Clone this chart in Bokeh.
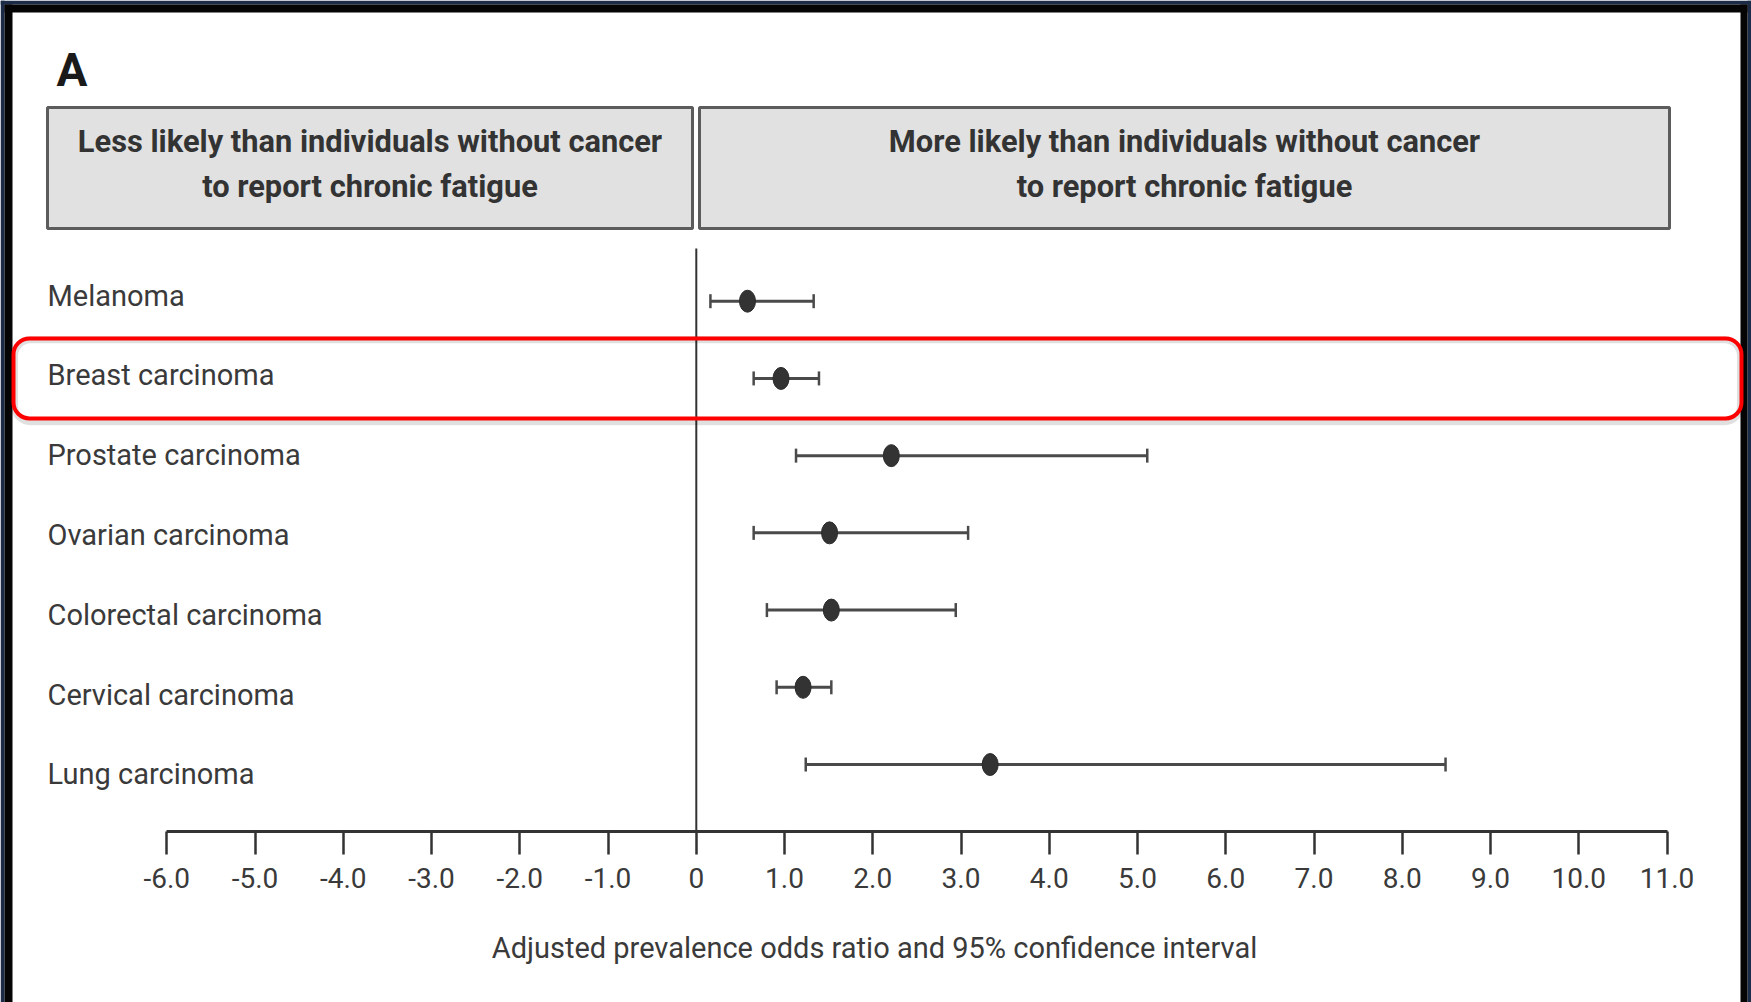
from bokeh.plotting import figure
from bokeh.models import (Range1d, LinearAxis, FixedTicker, Whisker, ColumnDataSource,
                          BoxAnnotation, TeeHead)
from bokeh.core.properties import value
from bokeh.embed import file_html
from bokeh.resources import INLINE

# ---------------- data ----------------
categories = ["Melanoma", "Breast carcinoma", "Prostate carcinoma", "Ovarian carcinoma",
              "Colorectal carcinoma", "Cervical carcinoma", "Lung carcinoma"]
odds_ratio = [0.58, 0.96, 2.21, 1.51, 1.53, 1.21, 3.33]
ci_lower = [0.16, 0.65, 1.13, 0.65, 0.80, 0.91, 1.24]
ci_upper = [1.33, 1.39, 5.11, 3.08, 2.94, 1.53, 8.49]
x_ticks = [-6, -5, -4, -3, -2, -1, 0, 1, 2, 3, 4, 5, 6, 7, 8, 9, 10, 11]
tick_labels = ["-6.0", "-5.0", "-4.0", "-3.0", "-2.0", "-1.0", "0", "1.0", "2.0", "3.0",
               "4.0", "5.0", "6.0", "7.0", "8.0", "9.0", "10.0", "11.0"]
header_left = ["Less likely than individuals without cancer", "to report chronic fatigue"]
header_right = ["More likely than individuals without cancer", "to report chronic fatigue"]
axis_title = "Adjusted prevalence odds ratio and 95% confidence interval"
panel_letter = "A"
highlighted = "Breast carcinoma"

# ---------------- layout helpers (page pixel -> data) ----------------
W, H = 1751, 1002
ZERO_PX, UNIT_PX = 695.8, 88.25
ROW0_PX, ROW_PX = 300.7, 77.22


def X(px):
    return (px - ZERO_PX) / UNIT_PX


def Y(py):
    return (py - ROW0_PX) / ROW_PX


FONT = "Roboto"
rows = list(range(len(categories)))

p = figure(width=W, height=H, x_range=Range1d(X(0), X(W)),
           y_range=Range1d(Y(H), Y(0)), x_axis_type=None, y_axis_type=None,
           toolbar_location=None, output_backend="svg", min_border=0,
           outline_line_color=None, background_fill_color="white",
           border_fill_color="white")

# dark frame around the panel (navy outer, black inner)
p.quad(left=[X(0), X(0), X(1747)], right=[X(4), X(W), X(W)],
       top=[Y(0), Y(0), Y(0)], bottom=[Y(H), Y(4), Y(H)],
       fill_color="#1b2b48", line_color=None)
p.quad(left=[X(4), X(4), X(1740)], right=[X(12), X(1747), X(1747)],
       top=[Y(4), Y(4), Y(4)], bottom=[Y(H), Y(12), Y(H)],
       fill_color="#050505", line_color=None)

# panel letter
p.text(x=[X(56)], y=[Y(69)], text=[panel_letter], text_font=value(FONT),
       text_font_style="bold", text_font_size="46px", text_color="#1a1a1a",
       text_baseline="middle", text_align="left")

# header boxes
p.quad(left=[X(47), X(699)], right=[X(692), X(1669)], top=[Y(107), Y(107)],
       bottom=[Y(228), Y(228)], fill_color="#e1e1e1", line_color="#5c5c5c", line_width=3)
for lines, cx in ((header_left, (47 + 692) / 2), (header_right, (699 + 1669) / 2)):
    p.text(x=[X(cx)] * len(lines), y=[Y(141), Y(186)], text=lines, text_font=value(FONT),
           text_font_style="bold", text_font_size="30.8px", text_color="#333333",
           text_align="center", text_baseline="middle")

# zero reference line
p.segment(x0=[0], x1=[0], y0=[Y(248)], y1=[Y(830)], line_color="#333333", line_width=2)

# row labels
label_y = [Y(295) + i * (79.8 / ROW_PX) for i in rows]
p.text(x=[X(47)] * len(categories), y=label_y, text=categories, text_font=value(FONT),
       text_font_size="29px", text_color="#3a3a3a", text_align="left",
       text_baseline="middle")

# confidence intervals
src = ColumnDataSource(dict(base=rows, lower=ci_lower, upper=ci_upper))
whisk = Whisker(base="base", lower="lower", upper="upper", dimension="width", source=src,
                line_width=3, line_color="#4a4a4a",
                lower_head=TeeHead(size=14, line_width=2.5, line_color="#4a4a4a"),
                upper_head=TeeHead(size=14, line_width=2.5, line_color="#4a4a4a"))
p.add_layout(whisk)

# point estimates
p.ellipse(x=odds_ratio, y=rows, width=16, height=22, width_units="screen",
          height_units="screen", fill_color="#333333", line_color="#2a2a2a")

# x axis
xaxis = LinearAxis(fixed_location=Y(830.5), bounds=(x_ticks[0], x_ticks[-1]),
                   ticker=FixedTicker(ticks=x_ticks),
                   major_label_overrides={t: s for t, s in zip(x_ticks, tick_labels)})
xaxis.axis_line_width = 3
xaxis.axis_line_color = "#333333"
xaxis.major_tick_line_width = 2.5
xaxis.major_tick_line_color = "#333333"
xaxis.major_tick_in = 0
xaxis.major_tick_out = 23
xaxis.minor_tick_line_color = None
xaxis.major_label_standoff = 14
xaxis.major_label_text_font = FONT
xaxis.major_label_text_font_size = "28px"
xaxis.major_label_text_color = "#3a3a3a"
p.add_layout(xaxis, "below")

p.text(x=[X(874)], y=[Y(947)], text=[axis_title], text_font=value(FONT),
       text_font_size="29px", text_color="#3a3a3a", text_align="center",
       text_baseline="middle")

# highlight box around the selected row
hi = categories.index(highlighted)
shadow = BoxAnnotation(left=X(14), right=X(1740), top=hi - 0.50, bottom=hi + 0.56,
                       fill_alpha=0, line_color="#000000", line_alpha=0.12, line_width=7,
                       border_radius=16)
box = BoxAnnotation(left=X(13), right=X(1741), top=hi - 0.518, bottom=hi + 0.518,
                    fill_alpha=0, line_color="#ff0000", line_alpha=1.0, line_width=4,
                    border_radius=16)
p.add_layout(shadow)
p.add_layout(box)

open("out.html", "w").write(file_html(p, INLINE))
